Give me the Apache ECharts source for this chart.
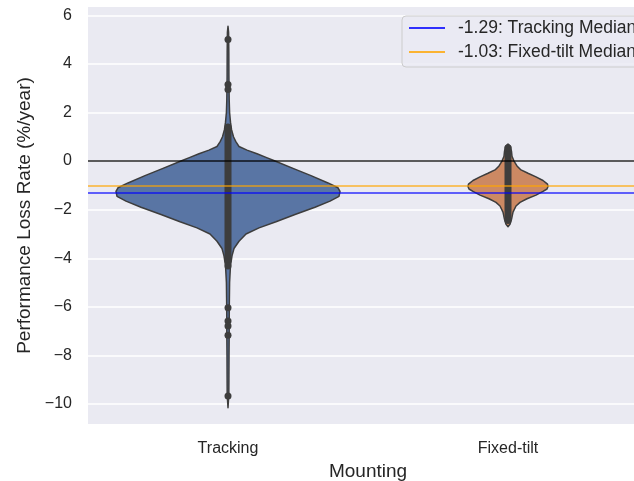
<!DOCTYPE html>
<html>
<head>
<meta charset="utf-8">
<script src="https://cdn.jsdelivr.net/npm/echarts@6/dist/echarts.min.js"></script>
<style>
  html, body { margin: 0; padding: 0; background: #ffffff; }
  #chart { width: 634px; height: 481px; }
</style>
</head>
<body>
<div id="chart"></div>
<script>
// Categories and value axis
const categories = ['Tracking', 'Fixed-tilt'];
const yTicks = [-10, -8, -6, -4, -2, 0, 2, 4, 6];
const yRange = [-10.82, 6.34];

// Violin outlines: value levels and half-widths (fraction of one category band)
const trackingLevels = [5.55, 5.3, 4.5, 3.5, 2.5, 2.0, 1.6, 1.3, 1.0, 0.8, 0.6, 0.45, 0.3, 0.15, 0,
  -0.3, -0.6, -0.9, -1.1, -1.25, -1.45, -1.65, -1.9, -2.2, -2.5, -2.75, -3.0, -3.3, -3.6, -3.9,
  -4.3, -5, -6, -7, -8, -9, -9.6, -10.15];
const trackingHalfWidth = [0, 0.0021, 0.0029, 0.0032, 0.0043, 0.0057, 0.0089, 0.0125, 0.0196, 0.028,
  0.0393, 0.0679, 0.1036, 0.1357, 0.1679, 0.2321, 0.2964, 0.3571, 0.3929, 0.4, 0.3964, 0.3643,
  0.3107, 0.2393, 0.1714, 0.1107, 0.0643, 0.0393, 0.0214, 0.0143, 0.0089, 0.0057, 0.0046, 0.0043,
  0.0036, 0.0032, 0.0029, 0];
const fixedLevels = [0.7, 0.6, 0.4, 0.2, 0, -0.2, -0.35, -0.5, -0.65, -0.8, -0.95, -1.05, -1.15,
  -1.25, -1.4, -1.55, -1.7, -1.85, -2.1, -2.4, -2.6, -2.7];
const fixedHalfWidth = [0, 0.0089, 0.0125, 0.0143, 0.0214, 0.0321, 0.0446, 0.0714, 0.1, 0.125,
  0.1411, 0.1429, 0.1393, 0.125, 0.1, 0.0679, 0.0429, 0.0286, 0.0179, 0.0125, 0.0071, 0];

// Dense runs of observations, drawn as a solid strip [low, high]
const trackingCore = [-4.25, 1.55];
const fixedCore = [-2.4, 0.5];

// Isolated observations
const trackingPoints = [5.0, 3.15, 2.95, -4.32, -6.04, -6.58, -6.79, -7.17, -9.67];
const fixedPoints = [0.55, -2.45];

// Reference lines
const medianLabels = ['-1.29: Tracking Median', '-1.03: Fixed-tilt Median'];
const medianValues = [-1.29, -1.03];
const medianColors = ['#0000ff', '#ffa500'];
const zeroLine = 0;

const violinFill = ['#5975a4', '#cc8963'];
const inkGray = '#3d3d3d';
const textColor = '#262626';
const fontFamily = '"Liberation Sans", Arial, sans-serif';

const profiles = [
  { levels: trackingLevels, half: trackingHalfWidth },
  { levels: fixedLevels, half: fixedHalfWidth }
];

function renderViolin(params, api) {
  const cat = api.value(0);
  const prof = profiles[cat];
  const band = api.size([1, 0])[0];
  const right = [], left = [];
  for (let i = 0; i < prof.levels.length; i++) {
    const p = api.coord([cat, prof.levels[i]]);
    right.push([p[0] + prof.half[i] * band, p[1]]);
    left.push([p[0] - prof.half[i] * band, p[1]]);
  }
  return {
    type: 'polygon',
    shape: { points: right.concat(left.reverse()) },
    style: { fill: violinFill[cat], stroke: inkGray, lineWidth: 1.5, lineJoin: 'round' }
  };
}

function renderCore(params, api) {
  const cat = api.value(0);
  const top = api.coord([cat, api.value(2)]);
  const bottom = api.coord([cat, api.value(1)]);
  const w = 7;
  return {
    type: 'rect',
    shape: { x: top[0] - w / 2, y: top[1], width: w, height: bottom[1] - top[1], r: w / 2 },
    style: { fill: inkGray }
  };
}

const chart = echarts.init(document.getElementById('chart'), null, { renderer: 'canvas' });

const series = [
  {
    // white horizontal grid lines, kept beneath the violins
    type: 'line', data: [], z: 1, silent: true,
    markLine: {
      z: 1, silent: true, symbol: 'none', animation: false,
      label: { show: false },
      lineStyle: { color: '#ffffff', width: 1.5, type: 'solid' },
      data: yTicks.map(v => ({ yAxis: v }))
    }
  },
  {
    type: 'custom', z: 2,
    renderItem: renderViolin,
    encode: { x: 0, y: 1 },
    data: [[0, 0], [1, 0]]
  },
  {
    type: 'custom', z: 3,
    renderItem: renderCore,
    encode: { x: 0, y: [1, 2] },
    data: [[0, trackingCore[0], trackingCore[1]], [1, fixedCore[0], fixedCore[1]]]
  },
  {
    type: 'scatter', z: 3, symbolSize: 7,
    itemStyle: { color: inkGray, opacity: 1 },
    data: trackingPoints.map(v => [0, v]).concat(fixedPoints.map(v => [1, v]))
  },
  {
    type: 'line', data: [], z: 4, silent: true,
    markLine: {
      z: 5, silent: true, symbol: 'none', animation: false,
      label: { show: false },
      lineStyle: { color: '#000000', width: 1.5, opacity: 0.85, type: 'solid' },
      data: [{ yAxis: zeroLine }]
    }
  }
];

medianLabels.forEach((name, i) => {
  series.push({
    name: name, type: 'line', data: [], z: 5, symbol: 'none',
    itemStyle: { color: medianColors[i] },
    lineStyle: { color: medianColors[i], width: 1.5, opacity: 0.8 },
    markLine: {
      z: 6, silent: true, symbol: 'none', animation: false,
      label: { show: false },
      lineStyle: { color: medianColors[i], width: 1.5, opacity: 0.8, type: 'solid' },
      data: [{ yAxis: medianValues[i] }]
    }
  });
});

chart.setOption({
  animation: false,
  backgroundColor: '#ffffff',
  textStyle: { fontFamily: fontFamily },
  grid: {
    left: 88, top: 7, width: 560, height: 417,
    outerBoundsMode: 'none',
    containLabel: false,
    show: true, backgroundColor: '#eaeaf2', borderWidth: 0
  },
  legend: {
    data: medianLabels,
    orient: 'vertical',
    left: 402, top: 16,
    padding: [3, 12, 6, 6],
    itemGap: 6,
    itemWidth: 36, itemHeight: 20,
    itemStyle: { opacity: 0 },
    backgroundColor: 'rgba(234,234,242,0.8)',
    borderColor: '#cccccc', borderWidth: 1, borderRadius: 4,
    textStyle: { fontSize: 17.5, color: textColor, fontFamily: fontFamily, padding: [0, 0, 0, 8] }
  },
  xAxis: {
    type: 'category',
    data: categories,
    boundaryGap: true,
    name: 'Mounting',
    nameLocation: 'middle',
    nameGap: 37,
    nameTextStyle: { fontSize: 19, color: textColor, fontFamily: fontFamily },
    axisLine: { show: false },
    axisTick: { show: false },
    splitLine: { show: false },
    axisLabel: { fontSize: 16, color: textColor, margin: 17, fontFamily: fontFamily }
  },
  yAxis: {
    type: 'value',
    min: yRange[0], max: yRange[1],
    splitNumber: 8,
    name: 'Performance Loss Rate (%/year)',
    nameLocation: 'middle',
    nameGap: 54,
    nameTextStyle: { fontSize: 19, color: textColor, fontFamily: fontFamily },
    axisLine: { show: false },
    axisTick: { show: false },
    splitLine: { show: false },
    axisLabel: {
      fontSize: 16, color: textColor, margin: 16, fontFamily: fontFamily,
      formatter: v => (yTicks.indexOf(v) >= 0 ? String(v).replace('-', '\u2212') : '')
    }
  },
  series: series
});
</script>
</body>
</html>
